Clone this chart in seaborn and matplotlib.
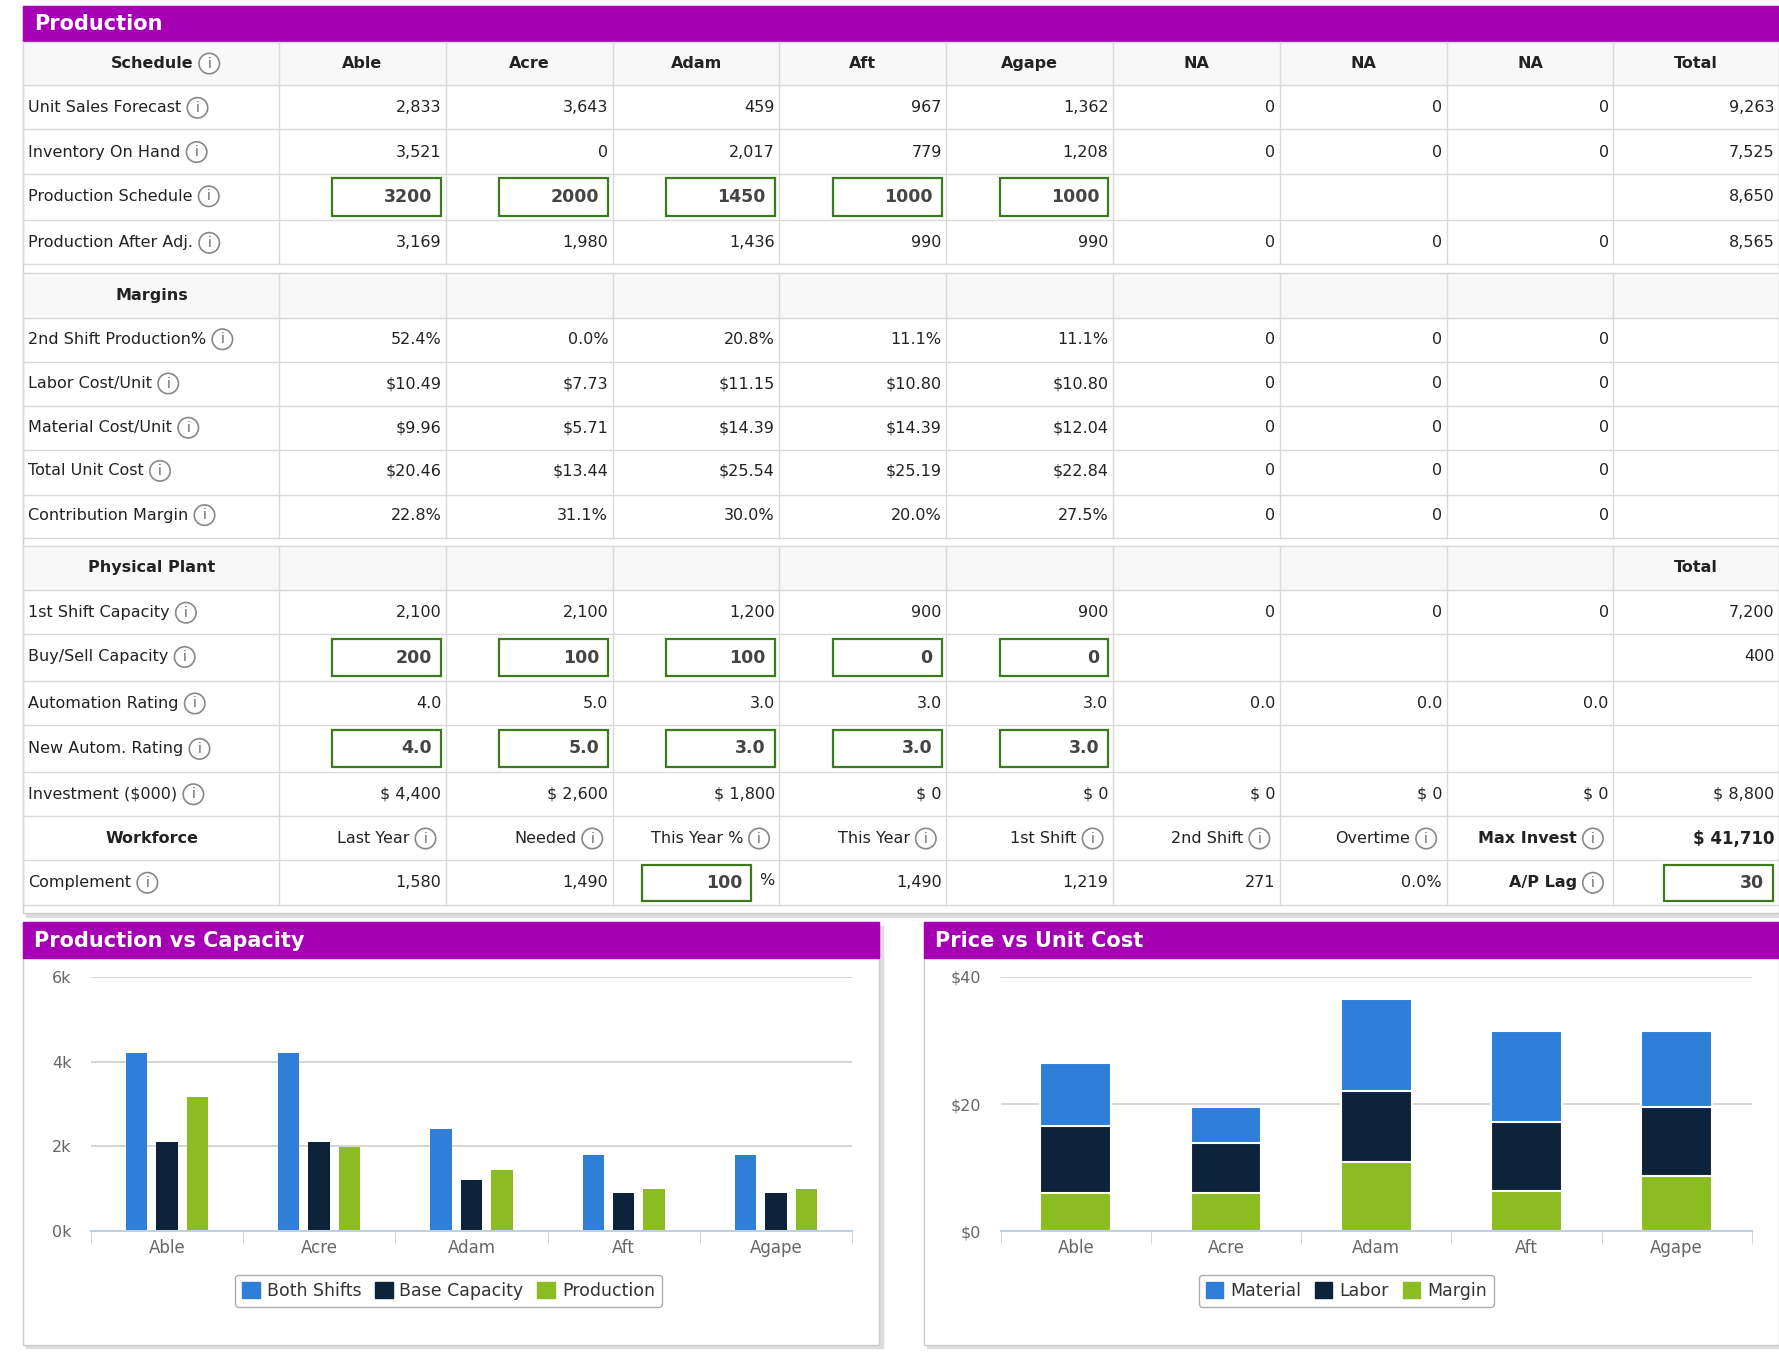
import matplotlib
matplotlib.use("Agg")
import matplotlib.pyplot as plt
from matplotlib.patches import Rectangle, Circle, Patch
import seaborn as sns
import pandas as pd

products = ["Able", "Acre", "Adam", "Aft", "Agape"]
col_heads = ["Able", "Acre", "Adam", "Aft", "Agape", "NA", "NA", "NA", "Total"]

unit_sales = ["2,833", "3,643", "459", "967", "1,362", "0", "0", "0", "9,263"]
inventory = ["3,521", "0", "2,017", "779", "1,208", "0", "0", "0", "7,525"]
prod_schedule = ["3200", "2000", "1450", "1000", "1000"]
prod_schedule_total = "8,650"
prod_after = ["3,169", "1,980", "1,436", "990", "990", "0", "0", "0", "8,565"]
second_shift = ["52.4%", "0.0%", "20.8%", "11.1%", "11.1%", "0", "0", "0", ""]
labor_txt = ["$10.49", "$7.73", "$11.15", "$10.80", "$10.80", "0", "0", "0", ""]
material_txt = ["$9.96", "$5.71", "$14.39", "$14.39", "$12.04", "0", "0", "0", ""]
total_cost_txt = ["$20.46", "$13.44", "$25.54", "$25.19", "$22.84", "0", "0", "0", ""]
contrib_txt = ["22.8%", "31.1%", "30.0%", "20.0%", "27.5%", "0", "0", "0", ""]
first_shift_txt = ["2,100", "2,100", "1,200", "900", "900", "0", "0", "0", "7,200"]
buysell = ["200", "100", "100", "0", "0"]
buysell_total = "400"
autom_txt = ["4.0", "5.0", "3.0", "3.0", "3.0", "0.0", "0.0", "0.0", ""]
new_autom = ["4.0", "5.0", "3.0", "3.0", "3.0"]
invest_txt = ["$ 4,400", "$ 2,600", "$ 1,800", "$ 0", "$ 0", "$ 0", "$ 0", "$ 0", "$ 8,800"]
workforce_heads = ["Last Year", "Needed", "This Year %", "This Year", "1st Shift", "2nd Shift", "Overtime", "Max Invest"]
complement_txt = ["1,580", "1,490", None, "1,490", "1,219", "271", "0.0%", "A/P Lag"]

# chart data
both_shifts = [4200, 4200, 2400, 1800, 1800]
base_capacity = [2100, 2100, 1200, 900, 900]
production = [3169, 1980, 1436, 990, 990]
material = [9.96, 5.71, 14.39, 14.39, 12.04]
labor = [10.49, 7.73, 11.15, 10.80, 10.80]
margin = [6.04, 6.07, 10.95, 6.30, 8.66]

PURPLE = "#a600b4"
GRID = "#d9d9d9"
GREEN_BOX = "#3d7a1e"
TXT = "#222222"
C_BLUE, C_NAVY, C_GREEN = "#2f7ed8", "#0d233a", "#8bbc21"

W, H = 1568, 1203
fig = plt.figure(figsize=(17.79, 13.65), dpi=100)
fig.patch.set_facecolor("white")
ax = fig.add_axes([0, 0, 1, 1])
ax.set_xlim(0, W)
ax.set_ylim(H, 0)
ax.axis("off")

cols = [20, 246, 393, 540, 687, 834, 981, 1128, 1275, 1422, 1568]
FS = 11.5


def panel(x0, y0, x1, y1, title):
    ax.add_patch(Rectangle((x0 + 3, y0 + 3), x1 - x0, y1 - y0, color="#dddddd", zorder=0))
    ax.add_patch(Rectangle((x0, y0), x1 - x0, y1 - y0, facecolor="white", edgecolor="#cccccc", zorder=1))
    ax.add_patch(Rectangle((x0, y0), x1 - x0, 31, color=PURPLE, zorder=2))
    ax.text(x0 + 10, y0 + 16, title, color="white", fontsize=15, fontweight="bold", va="center", zorder=3)


panel(20, 5, 1568, 805, "Production")
panel(20, 813, 775, 1185, "Production vs Capacity")
panel(814, 813, 1568, 1185, "Price vs Unit Cost")

sections = [[37, 75, 114, 153, 194, 233],
            [241, 280, 319, 358, 397, 436, 474],
            [481, 520, 559, 600, 639, 680, 719, 758, 798]]
for rows in sections:
    for y in rows:
        ax.plot([20, 1568], [y, y], color=GRID, lw=1, zorder=2)
    for x in cols:
        ax.plot([x, x], [rows[0], rows[-1]], color=GRID, lw=1, zorder=2)
    ax.add_patch(Rectangle((20, rows[0]), 1548, rows[1] - rows[0], color="#f8f8f8", zorder=1.5))

renderer = fig.canvas.get_renderer()
inv = ax.transData.inverted()


def info(t):
    bb = t.get_window_extent(renderer)
    x1 = inv.transform((bb.x1, bb.y0))[0]
    yc = t.get_position()[1]
    cx = x1 + 14
    ax.add_patch(Circle((cx, yc), 9, facecolor="white", edgecolor="#888888", lw=1.2, zorder=4))
    ax.text(cx, yc, "i", fontsize=10, color="#666666", ha="center", va="center", zorder=5)


def label(y, s, icon=True):
    t = ax.text(25, y, s, fontsize=FS, color=TXT, va="center", zorder=3)
    if icon:
        info(t)


def head(y, s, icon=False):
    t = ax.text(134, y, s, fontsize=FS, fontweight="bold", color=TXT, va="center", ha="center", zorder=3)
    if icon:
        info(t)


def values(y, vals, bold=False):
    for i, v in enumerate(vals):
        if v:
            ax.text(cols[i + 2] - 4, y, v, fontsize=FS, color=TXT, ha="right", va="center",
                    fontweight="bold" if bold else "normal", zorder=3)


def box(i, y0, y1, v, x0=None):
    xl = cols[i + 1] + 47 if x0 is None else x0
    xr = cols[i + 2] - 4 if x0 is None else x0 + 96
    ax.add_patch(Rectangle((xl, y0 + 4), xr - xl, y1 - y0 - 8, facecolor="white",
                           edgecolor=GREEN_BOX, lw=1.6, zorder=3))
    ax.text(xr - 8, (y0 + y1) / 2, v, fontsize=12.5, fontweight="bold", color="#444444",
            ha="right", va="center", zorder=4)


# schedule section
head(56, "Schedule", icon=True)
for i, c in enumerate(col_heads):
    ax.text((cols[i + 1] + cols[i + 2]) / 2, 56, c, fontsize=FS, fontweight="bold", color=TXT,
            ha="center", va="center", zorder=3)
label(95, "Unit Sales Forecast"); values(95, unit_sales)
label(134, "Inventory On Hand"); values(134, inventory)
label(173, "Production Schedule")
for i, v in enumerate(prod_schedule):
    box(i, 153, 194, v)
values(173, [""] * 8 + [prod_schedule_total])
label(214, "Production After Adj."); values(214, prod_after)

# margins
head(260, "Margins")
label(299, "2nd Shift Production%"); values(299, second_shift)
label(338, "Labor Cost/Unit"); values(338, labor_txt)
label(377, "Material Cost/Unit"); values(377, material_txt)
label(415, "Total Unit Cost"); values(415, total_cost_txt)
label(454, "Contribution Margin"); values(454, contrib_txt)

# physical plant
head(500, "Physical Plant")
ax.text(1495, 500, "Total", fontsize=FS, fontweight="bold", color=TXT, ha="center", va="center", zorder=3)
label(540, "1st Shift Capacity"); values(540, first_shift_txt)
label(579, "Buy/Sell Capacity")
for i, v in enumerate(buysell):
    box(i, 559, 600, v)
values(579, [""] * 8 + [buysell_total])
label(620, "Automation Rating"); values(620, autom_txt)
label(660, "New Autom. Rating")
for i, v in enumerate(new_autom):
    box(i, 639, 680, v)
label(700, "Investment ($000)"); values(700, invest_txt)

# workforce
head(739, "Workforce")
for i, s in enumerate(workforce_heads):
    bold = s == "Max Invest"
    t = ax.text(cols[i + 2] - 32, 739, s, fontsize=FS, color=TXT, ha="right", va="center",
                fontweight="bold" if bold else "normal", zorder=3)
    info(t)
ax.text(1564, 739, "$ 41,710", fontsize=12, fontweight="bold", color=TXT, ha="right", va="center", zorder=3)
label(778, "Complement")
for i, v in enumerate(complement_txt):
    if v is None:
        box(i, 758, 798, "100", x0=566)
        ax.text(669, 776, "%", fontsize=FS, color=TXT, va="center", zorder=3)
    elif v == "A/P Lag":
        t = ax.text(cols[i + 2] - 32, 778, v, fontsize=FS, fontweight="bold", color=TXT,
                    ha="right", va="center", zorder=3)
        info(t)
    else:
        ax.text(cols[i + 2] - 4, 778, v, fontsize=FS, color=TXT, ha="right", va="center", zorder=3)
box(8, 758, 798, "30", x0=1467)


# charts
def chart_ax(x0, y0, x1, y1):
    a = fig.add_axes([x0 / W, 1 - y1 / H, (x1 - x0) / W, (y1 - y0) / H])
    a.set_facecolor("none")
    return a


def style(a, ticks, labels):
    a.set_xlim(-0.5, 4.5)
    a.set_yticks(ticks)
    a.set_yticklabels(labels)
    a.yaxis.grid(True, color="#cfcfcf", lw=1.2)
    a.set_axisbelow(True)
    for s in ["top", "right", "left"]:
        a.spines[s].set_visible(False)
    a.spines["bottom"].set_color("#c0d0e0")
    a.spines["bottom"].set_linewidth(1.5)
    a.set_xticks([-0.5, 0.5, 1.5, 2.5, 3.5, 4.5], minor=True)
    a.tick_params(axis="x", which="minor", length=9, color="#c0d0e0")
    a.tick_params(axis="x", which="major", length=0, labelsize=12, labelcolor="#666666", pad=6)
    a.tick_params(axis="y", length=0, labelsize=11.5, labelcolor="#666666", pad=14)
    a.set_xlabel("")
    a.set_ylabel("")


a1 = chart_ax(80, 861, 751, 1085)
df1 = pd.DataFrame({"product": products * 3,
                    "value": both_shifts + base_capacity + production,
                    "series": ["Both Shifts"] * 5 + ["Base Capacity"] * 5 + ["Production"] * 5})
sns.barplot(data=df1, x="product", y="value", hue="series", palette=[C_BLUE, C_NAVY, C_GREEN],
            width=0.6, gap=0.3, saturation=1, legend=False, ax=a1)
a1.set_ylim(0, 6000)
style(a1, [0, 2000, 4000, 6000], ["0k", "2k", "4k", "6k"])
a1.legend(handles=[Patch(color=c, label=l) for c, l in
                   zip([C_BLUE, C_NAVY, C_GREEN], ["Both Shifts", "Base Capacity", "Production"])],
          loc="center", bbox_to_anchor=(0.47, -0.235), ncol=3, fontsize=12.5, frameon=True,
          edgecolor="#999999", handlelength=1.0, handleheight=1.0, columnspacing=0.8,
          handletextpad=0.4, labelcolor="#333333")

a2 = chart_ax(882, 861, 1544, 1085)
tot = [m + l + g for m, l, g in zip(material, labor, margin)]
lab_mar = [l + g for l, g in zip(labor, margin)]
for vals, c in [(tot, C_BLUE), (lab_mar, C_NAVY), (margin, C_GREEN)]:
    sns.barplot(x=products, y=vals, color=c, width=0.47, saturation=1, edgecolor="white",
                linewidth=1.5, ax=a2)
a2.set_ylim(0, 40)
style(a2, [0, 20, 40], ["$0", "$20", "$40"])
a2.legend(handles=[Patch(color=c, label=l) for c, l in
                   zip([C_BLUE, C_NAVY, C_GREEN], ["Material", "Labor", "Margin"])],
          loc="center", bbox_to_anchor=(0.46, -0.235), ncol=3, fontsize=12.5, frameon=True,
          edgecolor="#999999", handlelength=1.0, handleheight=1.0, columnspacing=0.8,
          handletextpad=0.4, labelcolor="#333333")

fig.savefig("out.png", dpi=100)
